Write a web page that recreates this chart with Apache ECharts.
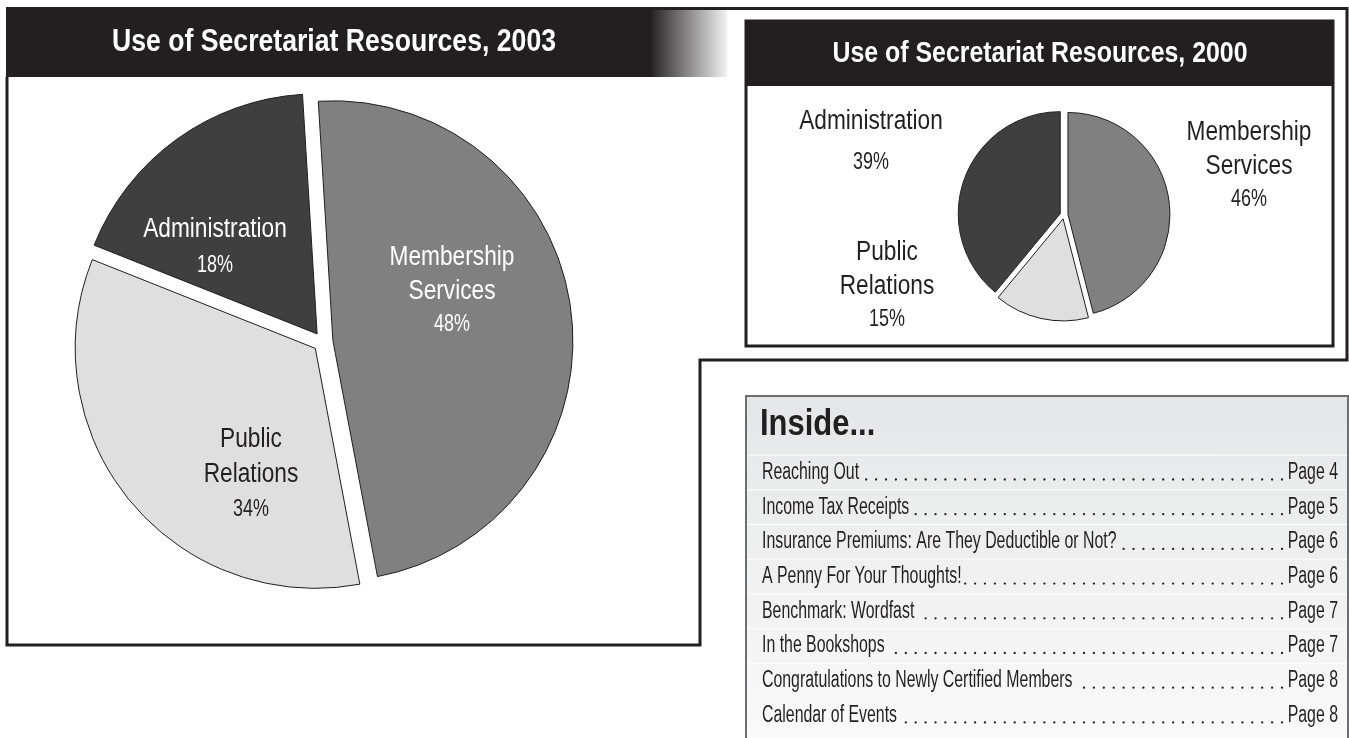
<!DOCTYPE html>
<html><head><meta charset="utf-8">
<script src="https://cdn.jsdelivr.net/npm/echarts@6/dist/echarts.min.js"></script>
<style>html,body{margin:0;padding:0;background:#fff}#main{width:1349px;height:738px}</style>
</head><body><div id="main"></div>
<script>
// ---------- data ----------
const pieCategories = ['Membership Services', 'Public Relations', 'Administration'];
const values2003 = [48, 34, 18];
const values2000 = [46, 15, 39];
const title2003 = 'Use of Secretariat Resources, 2003';
const title2000 = 'Use of Secretariat Resources, 2000';
const insideHeading = 'Inside...';
const tocTitles = ['Reaching Out', 'Income Tax Receipts', 'Insurance Premiums: Are They Deductible or Not?',
  'A Penny For Your Thoughts!', 'Benchmark: Wordfast', 'In the Bookshops',
  'Congratulations to Newly Certified Members', 'Calendar of Events'];
const tocPages = ['Page 4', 'Page 5', 'Page 6', 'Page 6', 'Page 7', 'Page 7', 'Page 8', 'Page 8'];

// ---------- style ----------
const INK = '#231f20';
const sliceColors = ['#808080', '#dfdfdf', '#3f3f3f'];
const labelColors2003 = ['#ffffff', INK, '#ffffff'];
const SANS = "'Liberation Sans',Arial,sans-serif";
// label anchors: [centre x, first line y, line gap]
const labelAnchor2003 = [[452, 258, 33.5], [251, 440, 35], [215, 230, 36]];
const labelAnchor2000 = [[1249, 133, 33.5], [887, 253, 33.5], [871, 122, 41]];

const chart = echarts.init(document.getElementById('main'), null, {renderer: 'canvas'});
const ctx = document.createElement('canvas').getContext('2d');
function measure(str, font) {
  try {
    const t = new echarts.graphic.Text({style: {text: str, font: font}});
    const w = t.getBoundingRect().width;
    if (w > 0) return w;
  } catch (e) {}
  ctx.font = font; return ctx.measureText(str).width;
}
function txt(str, x, y, font, color, align, sx) {
  return {type: 'text', x: x, y: y, scaleX: sx, z: 10,
    style: {text: str, fill: color, font: font, align: align, verticalAlign: 'middle'}};
}

const els = [];
// outer L frame
els.push({type: 'polyline', shape: {points: [[7, 77], [7, 645], [700, 645], [700, 360], [1347, 360], [1347, 8.5], [7, 8.5]]},
  style: {stroke: INK, lineWidth: 3, fill: null}});
// left header
els.push({type: 'rect', shape: {x: 6, y: 7, width: 648, height: 70}, style: {fill: INK}});
els.push({type: 'rect', shape: {x: 652, y: 10, width: 75, height: 67},
  style: {fill: new echarts.graphic.LinearGradient(0, 0, 1, 0, [{offset: 0, color: '#2a2627'}, {offset: 1, color: '#f2f2f2'}])}});
const tFont1 = "bold 32px " + SANS;
els.push(txt(title2003, 334, 42, tFont1, '#fff', 'center', 444 / measure(title2003, tFont1)));
// right box
els.push({type: 'rect', shape: {x: 746, y: 21, width: 587, height: 325}, style: {fill: '#fff', stroke: INK, lineWidth: 3}});
els.push({type: 'rect', shape: {x: 746, y: 21, width: 587, height: 65}, style: {fill: INK}});
const tFont2 = "bold 30px " + SANS;
els.push(txt(title2000, 1040, 54, tFont2, '#fff', 'center', 415 / measure(title2000, tFont2)));

// pie labels (text from data arrays)
function pieLabels(values, anchors, colors) {
  pieCategories.forEach((name, i) => {
    const a = anchors[i];
    const lines = name.split(' ');
    lines.forEach((ln, k) => els.push(txt(ln, a[0], a[1] + k * a[2], "27px " + SANS, colors[i], 'center', 0.84)));
    els.push(txt(values[i] + '%', a[0], a[1] + lines.length * a[2], "23px " + SANS, colors[i], 'center', 0.78));
  });
}
pieLabels(values2003, labelAnchor2003, labelColors2003);
pieLabels(values2000, labelAnchor2000, [INK, INK, INK]);

// inside box
els.push({type: 'rect', shape: {x: 746, y: 396, width: 602, height: 360},
  style: {stroke: '#6d6e71', lineWidth: 2,
    fill: new echarts.graphic.LinearGradient(0, 0, 0, 1, [{offset: 0, color: '#e5e6e7'}, {offset: 1, color: '#fbfbfb'}])}});
els.push(txt(insideHeading, 760, 425, "bold 36px " + SANS, INK, 'left', 0.86));

const rowFont = "23px " + SANS;
const rowSX = 0.69;
const rowY0 = 472.5, rowStep = 34.7;
tocTitles.forEach((t, i) => {
  const y = rowY0 + i * rowStep;
  els.push({type: 'line', shape: {x1: 747, y1: y - rowStep / 2, x2: 1347, y2: y - rowStep / 2}, style: {stroke: '#ffffff', lineWidth: 1}});
  els.push(txt(t, 762, y, rowFont, INK, 'left', rowSX));
  els.push(txt(tocPages[i], 1338, y, rowFont, INK, 'right', rowSX));
  const tEnd = 762 + measure(t, rowFont) * rowSX + 2;
  for (let x = 1282; x > tEnd; x -= 9.9) {
    els.push({type: 'circle', shape: {cx: x, cy: y + 7, r: 1.15}, style: {fill: INK}});
  }
});
els.push({type: 'line', shape: {x1: 747, y1: rowY0 + 7.5 * rowStep, x2: 1347, y2: rowY0 + 7.5 * rowStep}, style: {stroke: '#ffffff', lineWidth: 1}});

function pieSeries(values, center, radius, startAngle, offset) {
  return {
    type: 'pie', center: center, radius: radius, startAngle: startAngle, clockwise: true,
    selectedMode: 'multiple', selectedOffset: offset,
    itemStyle: {borderColor: INK, borderWidth: 1},
    select: {itemStyle: {borderColor: INK, borderWidth: 1}},
    emphasis: {disabled: true},
    label: {show: false}, labelLine: {show: false},
    data: pieCategories.map((name, i) => ({name, value: values[i], selected: true, itemStyle: {color: sliceColors[i]}}))
  };
}

chart.setOption({
  backgroundColor: '#ffffff',
  animation: false,
  graphic: {elements: els},
  series: [
    pieSeries(values2003, [323, 342], 240, 93.5, 10),
    pieSeries(values2000, [1064, 215], 102, 90, 4)
  ]
});
</script>
</body></html>
